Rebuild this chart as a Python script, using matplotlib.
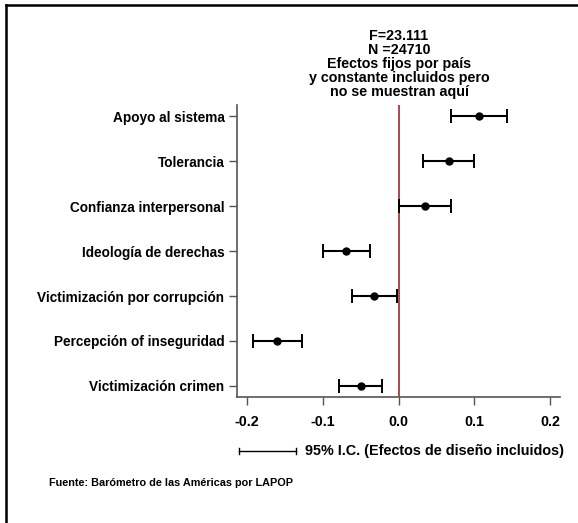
import matplotlib
matplotlib.use("Agg")
import matplotlib.pyplot as plt
from matplotlib.lines import Line2D

plt.rcParams['font.family'] = ['Liberation Sans', 'DejaVu Sans']
plt.rcParams['font.weight'] = 'bold'

# coefficient estimates with 95% CI
variables = ['Apoyo al sistema', 'Tolerancia', 'Confianza interpersonal',
             'Ideología de derechas', 'Victimización por corrupción',
             'Percepción of inseguridad', 'Victimización crimen']
coef = [0.106, 0.066, 0.035, -0.069, -0.032, -0.160, -0.050]
ci_low = [0.069, 0.032, 0.001, -0.100, -0.061, -0.192, -0.079]
ci_high = [0.143, 0.099, 0.069, -0.037, -0.002, -0.127, -0.022]
xticks = [-0.2, -0.1, 0.0, 0.1, 0.2]
xtick_labels = ['-0.2', '-0.1', '0.0', '0.1', '0.2']
title_lines = ['F=23.111', 'N =24710', 'Efectos fijos por país',
               'y constante incluidos pero', 'no se muestran aquí']

fig = plt.figure(figsize=(5.78, 5.23), dpi=100)
ax = fig.add_axes([0.410, 0.2409, 0.559, 0.5583])

ypos = list(range(len(variables), 0, -1))
err_lo = [c - l for c, l in zip(coef, ci_low)]
err_hi = [h - c for c, h in zip(coef, ci_high)]
ax.errorbar(coef, ypos, xerr=[err_lo, err_hi], fmt='o', color='black',
            ecolor='black', elinewidth=1.5, capsize=5, capthick=1.4,
            markersize=5, zorder=3)
ax.axvline(0, color='#a3272d', linewidth=1.2, zorder=2)

ax.set_xlim(-0.213, 0.213)
ax.set_ylim(0.755, len(variables) + 0.245)
ax.set_yticks(ypos)
ax.set_yticklabels(variables, fontsize=9.8, fontweight='bold')
ax.set_xticks(xticks)
ax.set_xticklabels(xtick_labels, fontsize=10.3, fontweight='bold')
ax.tick_params(axis='x', length=6, width=1, color='#555555', pad=7)
ax.tick_params(axis='y', length=6, width=1, color='#555555', pad=3)
for s in ['top', 'right']:
    ax.spines[s].set_visible(False)
for s in ['left', 'bottom']:
    ax.spines[s].set_color('#555555')
    ax.spines[s].set_linewidth(1.2)

fig.text(399 / 578, 1 - 64 / 523, '\n'.join(title_lines), ha='center',
         va='center', fontsize=10.3, fontweight='bold', linespacing=1.0)

# CI legend sample
fig.add_artist(Line2D([239 / 578, 296 / 578], [1 - 451 / 523] * 2,
                      color='black', linewidth=1.0))
for xp in [239, 296]:
    fig.add_artist(Line2D([xp / 578] * 2, [1 - 448 / 523, 1 - 454 / 523],
                          color='black', linewidth=1.0))
fig.text(305 / 578, 1 - 451 / 523, '95% I.C. (Efectos de diseño incluidos)',
         ha='left', va='center', fontsize=10.4, fontweight='bold')

fig.text(49 / 578, 1 - 483 / 523, 'Fuente: Barómetro de las Américas por LAPOP',
         ha='left', va='center', fontsize=7.8, fontweight='bold')

# outer frame (cropped at right and bottom)
fig.add_artist(Line2D([6 / 578, 1.0], [1 - 5 / 523] * 2, color='black',
                      linewidth=1.8))
fig.add_artist(Line2D([6 / 578] * 2, [0.0, 1 - 5 / 523], color='black',
                      linewidth=1.8))

fig.savefig('out.png', dpi=100)
